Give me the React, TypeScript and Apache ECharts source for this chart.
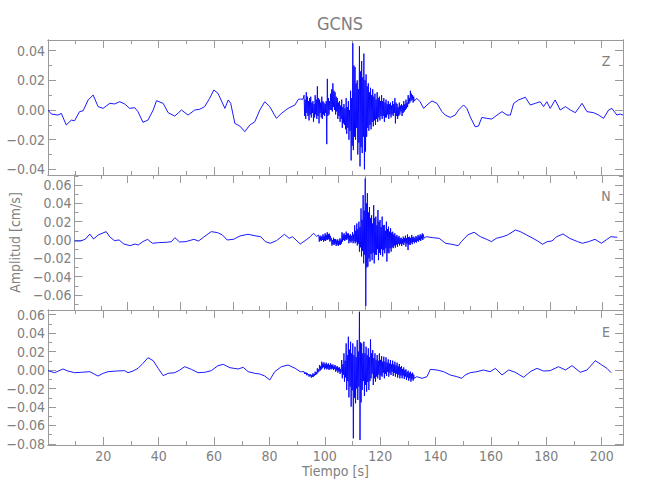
import React, { useEffect, useRef } from "react";
import * as echarts from "echarts";

// ---------- data ----------
const X_MIN = 0;
const X_MAX = 207.7;
const xMajorTicks = [20, 40, 60, 80, 100, 120, 140, 160, 180, 200];
const xMinorTicks = [10, 30, 50, 70, 90, 110, 130, 150, 170, 190];

const BURST_START = 92.5; // s
const BURST_STEP = 0.2; // s (sampling of the dense segment)

const zBefore: number[][] = [[0,0],[1.2,-0.0027],[3.6,-0.0034],[4.8,-0.0023],[6.6,-0.0101],[8.4,-0.0068],[9.6,-0.0072],[11.4,-0.0011],[12.7,-0.0005],[14.5,0.0068],[16.3,0.0101],[18.1,0.0023],[19.9,0.0011],[22.3,0.0045],[24.1,0.0041],[25.9,0.0056],[27.7,0.0041],[29.5,0.0011],[31.3,0.0016],[32.5,-0.0011],[34.3,-0.0083],[36.1,-0.0068],[38.0,0.0],[39.2,0.0063],[41.6,0.0045],[43.4,-0.0018],[45.8,-0.0041],[48.2,0.0],[50.6,-0.0034],[53.0,0.0],[54.8,0.0005],[56.6,0.0023],[58.4,0.0079],[59.9,0.0135],[61.4,0.0113],[63.9,0.0011],[65.1,0.0068],[66.0,0.0045],[67.5,-0.009],[69.3,-0.0108],[71.1,-0.0146],[72.9,-0.0101],[74.7,-0.0079],[76.5,0.0],[78.3,0.0056],[80.1,0.0023],[82.5,-0.0056],[84.3,-0.0023],[86.7,0.0011],[89.2,0.0034],[90.4,0.0072],[91.1,0.0074],[92.1,0.0072]];
const zBurst: number[] = [
0.010,-0.004,0.007,-0.006, 0.012,-0.002,0.009,-0.004, 0.006,-0.007,0.008,-0.003, 0.009,-0.005,0.005,-0.002, 0.006,-0.008,0.004,-0.005,
0.010,-0.003,0.007,-0.006, 0.016,-0.004,0.008,-0.009, 0.007,-0.002,0.005,-0.005, 0.009,-0.006,0.006,-0.003, 0.005,-0.004,0.004,-0.002,
0.006,-0.023,0.021,-0.004, 0.008,-0.003,0.006,0.000, 0.011,0.000,0.014,-0.001, 0.018,0.002,0.013,0.000, 0.012,-0.003,0.009,-0.001,
0.008,-0.006,0.005,-0.004, 0.006,-0.008,0.003,-0.006, 0.007,-0.012,0.002,-0.009, 0.004,-0.010,0.001,-0.013, 0.008,-0.016,0.002,-0.012,
0.006,-0.020,0.000,-0.014, 0.013,-0.034,0.008,-0.024, 0.045,-0.027,0.030,-0.018, 0.029,-0.020,0.018,-0.012, 0.020,-0.030,0.014,-0.022,
0.043,-0.038,0.026,-0.025, 0.033,-0.029,0.022,-0.018, 0.038,-0.040,0.020,-0.028, 0.024,-0.018,0.016,-0.012, 0.018,-0.014,0.012,-0.010,
0.015,-0.013,0.010,-0.008, 0.014,-0.011,0.009,-0.007, 0.011,-0.010,0.007,-0.006, 0.012,-0.008,0.008,-0.005, 0.009,-0.007,0.006,-0.004,
0.010,-0.006,0.006,-0.004, 0.008,-0.008,0.005,-0.005, 0.007,-0.005,0.004,-0.003, 0.006,-0.006,0.004,-0.003, 0.005,-0.005,0.003,-0.003,
0.006,-0.004,0.004,-0.002, 0.008,-0.009,0.005,-0.004, 0.004,-0.006,0.002,-0.004, 0.005,-0.003,0.003,-0.001, 0.004,-0.004,0.003,-0.002,
0.006,-0.001,0.004,0.000, 0.007,0.001,0.005,0.002, 0.010,0.004,0.008,0.005, 0.013,0.006,0.011,0.007, 0.010,0.005,0.009,0.006];
const zAfter: number[][] = [[133.2,0.0079],[134.4,0.0056],[135.7,0.0011],[136.9,0.0034],[138.7,0.0061],[140.5,0.0045],[142.3,-0.0011],[143.5,-0.0034],[145.3,-0.005],[147.1,-0.0034],[148.3,0.0],[150.1,0.0034],[151.3,0.0011],[152.5,-0.0045],[154.3,-0.0113],[155.5,-0.0108],[156.7,-0.005],[158.5,-0.0056],[160.3,-0.0061],[162.2,-0.0034],[164.0,-0.0011],[165.8,-0.0034],[167.0,-0.0034],[168.2,0.0045],[170.0,0.0068],[172.4,0.0086],[174.2,0.0034],[176.0,0.0045],[177.8,0.0056],[179.0,0.0023],[180.2,0.0056],[181.4,0.0011],[183.2,0.0068],[185.0,0.0],[186.9,0.0023],[188.7,0.0],[190.5,-0.0018],[192.9,0.0045],[194.7,-0.0011],[197.1,-0.0018],[198.9,-0.0034],[200.7,-0.0056],[202.5,0.0],[203.7,0.0011],[205.5,-0.0034],[206.7,-0.0027],[207.7,-0.0034]];

const nBefore: number[][] = [[0,-0.0011],[2.4,-0.0011],[4.2,0.0011],[5.8,0.0065],[7.2,0.0011],[9.0,0.0055],[12.0,0.0091],[13.3,0.0036],[15.1,-0.0007],[16.9,0.0],[18.7,-0.0044],[21.1,-0.0062],[22.9,-0.0044],[24.1,-0.0055],[25.9,-0.0018],[27.7,0.0007],[29.5,-0.0036],[31.9,-0.0029],[34.9,-0.0025],[36.7,-0.0018],[38.0,0.0025],[39.8,-0.0022],[42.2,-0.0018],[45.2,0.0007],[47.0,-0.0011],[48.8,0.0029],[51.8,0.0091],[54.2,0.008],[56.0,0.0055],[57.8,0.0],[60.2,0.0007],[62.7,0.0044],[65.7,0.0062],[68.7,0.0044],[70.5,0.0036],[72.3,-0.0018],[74.1,-0.0036],[76.5,-0.0007],[79.5,0.0062],[81.3,0.0018],[82.5,0.0036],[85.5,-0.0044],[88.0,0.0007],[89.3,0.0036],[90.5,0.0073],[91.7,0.004]];
const nBurst: number[] = [
0.0055,-0.0018,0.0040,-0.0005, 0.0047,-0.0011,0.0035,0.0000, 0.0062,-0.0018,0.0045,-0.0005, 0.0073,-0.0011,0.0055,0.0005, 0.0084,0.0,0.0065,0.0010,
0.0069,-0.0018,0.0045,-0.0005, 0.0018,-0.0062,0.0000,-0.0045, 0.0025,-0.0055,0.0010,-0.0040, 0.0011,-0.0065,-0.0005,-0.0050, 0.0007,-0.0065,-0.0010,-0.0050,
0.0018,-0.0055,0.0005,-0.0040, 0.0084,-0.0018,0.0060,0.0000, 0.0073,-0.0011,0.0055,0.0005, 0.0091,0.0,0.0070,0.0015, 0.0073,-0.0036,0.0050,-0.0015,
0.0062,-0.0029,0.0045,-0.0010, 0.0084,-0.0036,0.0060,-0.0015, 0.016,-0.0036,0.010,-0.0020, 0.018,-0.006,0.012,-0.004, 0.020,-0.0127,0.014,-0.008,
0.0345,-0.018,0.022,-0.012, 0.049,-0.0255,0.032,-0.016, 0.067,-0.072,0.040,-0.030, 0.051,-0.029,0.030,-0.020, 0.036,-0.0236,0.024,-0.015,
0.027,-0.022,0.018,-0.014, 0.038,-0.0255,0.024,-0.016, 0.0255,-0.0164,0.016,-0.010, 0.0327,-0.022,0.020,-0.014, 0.0218,-0.0164,0.014,-0.010,
0.0255,-0.018,0.016,-0.011, 0.0164,-0.0145,0.010,-0.009, 0.020,-0.0236,0.012,-0.014, 0.0145,-0.0145,0.009,-0.009, 0.0127,-0.0127,0.008,-0.008,
0.009,-0.009,0.006,-0.006, 0.0073,-0.0084,0.004,-0.005, 0.0055,-0.0073,0.003,-0.004, 0.0044,-0.006,0.002,-0.004, 0.0025,-0.0065,0.001,-0.004,
0.0036,-0.0055,0.002,-0.003, 0.0047,-0.0073,0.002,-0.004, 0.006,-0.011,0.003,-0.005, 0.0036,-0.0055,0.002,-0.003, 0.0055,-0.0047,0.003,-0.002,
0.0036,-0.0036,0.002,-0.002, 0.0044,-0.0029,0.003,-0.001, 0.0055,-0.0018,0.004,0.000, 0.0062,-0.0011,0.005,0.001, 0.0073,0.0,0.006,0.002];
const nAfter: number[][] = [[133.2,0.0036],[135.7,0.0025],[138.1,0.0018],[140.5,-0.0036],[142.9,-0.0047],[145.3,-0.0062],[146.5,-0.0018],[148.9,0.0055],[151.3,0.0084],[153.7,0.0036],[156.1,0.0007],[157.9,-0.0018],[159.7,0.0018],[162.2,0.0036],[164.0,0.0055],[167.0,0.0109],[168.8,0.0091],[171.2,0.0055],[173.6,0.0018],[175.4,-0.0011],[177.2,-0.0047],[179.0,-0.0018],[180.8,-0.0011],[182.6,0.0036],[185.0,0.0065],[187.5,0.0018],[190.5,-0.0018],[192.3,-0.0036],[194.7,-0.0018],[197.1,0.0007],[199.5,-0.0036],[201.3,0.0],[203.1,0.0036],[205.5,0.0029]];

const eBefore: number[][] = [[0,-0.0007],[2.4,-0.0029],[5.4,0.0011],[7.2,-0.0011],[9.6,-0.0029],[12.0,-0.0025],[15.1,-0.0018],[16.9,-0.0047],[18.1,-0.0065],[19.9,-0.0036],[21.7,-0.0018],[24.7,-0.0011],[27.7,-0.0007],[28.9,-0.0029],[30.7,-0.0011],[32.5,0.0018],[34.3,0.0072],[36.1,0.0133],[38.0,0.0101],[39.8,0.0018],[41.6,-0.0061],[43.4,-0.0036],[45.8,-0.0029],[47.6,0.0],[49.4,0.0036],[51.8,0.0007],[54.2,-0.0029],[56.6,-0.0025],[59.0,-0.0007],[61.4,0.0047],[63.3,0.0061],[65.7,0.0025],[68.7,0.0011],[70.5,0.0029],[72.3,-0.0018],[74.7,-0.0036],[76.5,-0.0043],[78.3,-0.0065],[80.1,-0.0108],[81.9,-0.0018],[84.3,0.0036],[86.7,0.0054],[89.3,0.0018],[91.1,-0.0018]];
const eBurst: number[] = [
-0.0018,-0.0043,-0.0025,-0.0040, -0.0029,-0.0058,-0.0035,-0.0052, -0.0043,-0.0072,-0.0050,-0.0066, -0.0047,-0.0083,-0.0055,-0.0075, -0.0036,-0.0072,-0.0045,-0.0062,
-0.0018,-0.0054,-0.0025,-0.0045, 0.0018,-0.0029,0.0005,-0.0015, 0.0054,-0.0007,0.0040,0.0005, 0.009,0.0018,0.0070,0.0030, 0.0083,0.0007,0.0065,0.0020,
0.0079,0.0007,0.0060,0.0015, 0.0072,0.0,0.0055,0.0010, 0.0072,0.0007,0.0055,0.0015, 0.0061,0.0,0.0045,0.0010, 0.0054,-0.0018,0.0035,-0.0005,
0.0043,-0.0029,0.0025,-0.0015, 0.0029,-0.0043,0.0010,-0.0025, 0.0108,-0.009,0.006,-0.005, 0.018,-0.0126,0.010,-0.008, 0.0288,-0.0216,0.016,-0.012,
0.036,-0.0296,0.022,-0.018, 0.0306,-0.0396,0.018,-0.022, 0.0288,-0.0739,0.016,-0.030, 0.0252,-0.036,0.014,-0.020, 0.0324,-0.0324,0.020,-0.018,
0.063,-0.0757,0.030,-0.035, 0.0288,-0.0216,0.018,-0.012, 0.0306,-0.0281,0.018,-0.016, 0.0252,-0.0234,0.016,-0.013, 0.0234,-0.0216,0.014,-0.012,
0.0332,-0.009,0.018,-0.004, 0.0216,-0.0162,0.013,-0.009, 0.018,-0.0126,0.011,-0.007, 0.0162,-0.009,0.010,-0.005, 0.018,-0.0108,0.011,-0.006,
0.0151,-0.0072,0.009,-0.003, 0.0144,-0.009,0.009,-0.004, 0.0137,-0.0065,0.008,-0.002, 0.0115,-0.0072,0.007,-0.003, 0.0108,-0.0054,0.006,-0.002,
0.0101,-0.0065,0.006,-0.003, 0.009,-0.0072,0.005,-0.004, 0.0079,-0.0083,0.004,-0.005, 0.0065,-0.009,0.003,-0.006, 0.0043,-0.009,0.001,-0.006,
0.0029,-0.0097,0.000,-0.007, 0.0007,-0.0108,-0.002,-0.008, -0.0007,-0.0115,-0.003,-0.009, -0.0018,-0.0126,-0.004,-0.010, -0.0029,-0.0115,-0.005,-0.009];
const eAfter: number[][] = [[133.2,-0.0072],[135.1,-0.009],[136.9,-0.0072],[138.1,0.0007],[140.5,0.0],[142.9,-0.0018],[145.3,-0.0054],[147.7,-0.0072],[149.5,-0.009],[150.7,-0.0054],[152.5,-0.0029],[154.9,-0.0018],[157.3,0.0],[159.7,-0.0018],[161.6,0.0018],[164.0,-0.0054],[166.4,0.0],[168.8,-0.0025],[171.8,-0.0079],[174.2,-0.0018],[176.6,0.0018],[179.0,-0.0011],[181.4,-0.0007],[184.4,0.0036],[186.9,0.0],[189.3,0.0047],[192.3,-0.0025],[194.7,0.0],[197.7,0.0101],[199.5,0.0065],[201.9,0.0018],[203.4,-0.0029]];

const channelNames = ["Z", "N", "E"];
const yMin = [-0.0438, -0.0764, -0.0811];
const yMax = [0.0472, 0.0709, 0.0649];
const yMajorTicks = [
  [-0.04, -0.02, 0, 0.02, 0.04],
  [-0.06, -0.04, -0.02, 0, 0.02, 0.04, 0.06],
  [-0.08, -0.06, -0.04, -0.02, 0, 0.02, 0.04, 0.06],
];
const yMinorTicks = [
  [-0.03, -0.01, 0.01, 0.03],
  [-0.07, -0.05, -0.03, -0.01, 0.01, 0.03, 0.05, 0.07],
  [-0.07, -0.05, -0.03, -0.01, 0.01, 0.03, 0.05],
];

// ---------- styling / layout ----------
const FONT = "'Liberation Sans Narrow','DejaVu Sans Condensed','Roboto Condensed',sans-serif";
const AXIS_COLOR = "#9a9a9a";
const TEXT_COLOR = "#808080";
const GRID_TOPS = [40, 175, 310];
const GRID_H = 135;
const GRID_LEFT = 48;
const GRID_RIGHT = 27;

const burstPoints = (vals: number[]) => vals.map((v, k) => [BURST_START + BURST_STEP * k, v]);
const seriesData = [
  [...zBefore, ...burstPoints(zBurst), ...zAfter],
  [...nBefore, ...burstPoints(nBurst), ...nAfter],
  [...eBefore, ...burstPoints(eBurst), ...eAfter],
];

const fmtY = (v: number) => {
  const s = Math.abs(v).toFixed(2);
  return v < -1e-9 ? "\u2212" + s : s;
};

function buildOption() {
  const grid: any[] = [];
  const xAxis: any[] = [];
  const yAxis: any[] = [];
  const series: any[] = [];
  for (let i = 0; i < 3; i++) {
    grid.push({ left: GRID_LEFT, right: GRID_RIGHT, top: GRID_TOPS[i], height: GRID_H, containLabel: false });
    const mkX = (pos: string, vals: number[], len: number, labels: boolean, extra: any = {}) => ({
      type: "value",
      gridIndex: i,
      position: pos,
      min: X_MIN,
      max: X_MAX,
      axisLine: { show: true, onZero: false, lineStyle: { color: AXIS_COLOR, width: 1 } },
      axisTick: { show: true, inside: true, length: len, customValues: vals, lineStyle: { color: AXIS_COLOR, width: 1 } },
      axisLabel: labels
        ? { show: true, customValues: vals, margin: 4, color: TEXT_COLOR, fontFamily: FONT, fontSize: 14, formatter: (v: number) => String(v) }
        : { show: false },
      splitLine: { show: false },
      ...extra,
    });
    const last = i === 2;
    xAxis.push(
      mkX("bottom", xMajorTicks, 8, last, last
        ? { name: "Tiempo [s]", nameLocation: "middle", nameGap: 17, nameTextStyle: { color: TEXT_COLOR, fontFamily: FONT, fontSize: 14 } }
        : {}),
      mkX("bottom", xMinorTicks, 4, false),
      mkX("top", xMajorTicks, 8, false),
      mkX("top", xMinorTicks, 4, false)
    );
    const mkY = (pos: string, vals: number[], len: number, labels: boolean, extra: any = {}) => ({
      type: "value",
      gridIndex: i,
      position: pos,
      min: yMin[i],
      max: yMax[i],
      axisLine: { show: true, onZero: false, lineStyle: { color: AXIS_COLOR, width: 1 } },
      axisTick: { show: true, inside: true, length: len, customValues: vals, lineStyle: { color: AXIS_COLOR, width: 1 } },
      axisLabel: labels
        ? { show: true, customValues: vals, margin: 3, color: TEXT_COLOR, fontFamily: FONT, fontSize: 14, formatter: fmtY }
        : { show: false },
      splitLine: { show: false },
      ...extra,
    });
    yAxis.push(
      mkY("left", yMajorTicks[i], 8, true, i === 1
        ? { name: "Amplitud [cm/s]", nameLocation: "middle", nameGap: 38, nameTextStyle: { color: TEXT_COLOR, fontFamily: FONT, fontSize: 14 } }
        : {}),
      mkY("left", yMinorTicks[i], 4, false),
      mkY("right", yMajorTicks[i], 8, false),
      mkY("right", yMinorTicks[i], 4, false)
    );
    series.push({
      type: "line",
      name: channelNames[i],
      xAxisIndex: 4 * i,
      yAxisIndex: 4 * i,
      data: seriesData[i],
      showSymbol: false,
      symbol: "none",
      silent: true,
      clip: true,
      lineStyle: { color: "#0000ff", width: 0.9 },
    });
  }
  const labelY = [61, 196, 332];
  const graphic = channelNames.map((c, i) => ({
    type: "text",
    x: 606,
    y: labelY[i],
    style: { text: c, fill: TEXT_COLOR, font: `14px ${FONT}`, textAlign: "center", textVerticalAlign: "middle" },
  }));
  return {
    animation: false,
    backgroundColor: "#ffffff",
    title: {
      text: "GCNS",
      left: 335,
      textAlign: "center",
      top: 9,
      textStyle: { color: TEXT_COLOR, fontFamily: FONT, fontSize: 18, fontWeight: "normal" },
    },
    grid,
    xAxis,
    yAxis,
    series,
    graphic,
  };
}

export default function App() {
  const ref = useRef<HTMLDivElement>(null);
  useEffect(() => {
    if (!ref.current) return;
    const chart = echarts.init(ref.current, undefined, { renderer: "svg" });
    chart.setOption(buildOption() as any);
    return () => chart.dispose();
  }, []);
  return (
    <div
      ref={ref}
      style={{ position: "fixed", left: 0, top: 0, width: 650, height: 500, background: "#fff" }}
    />
  );
}
